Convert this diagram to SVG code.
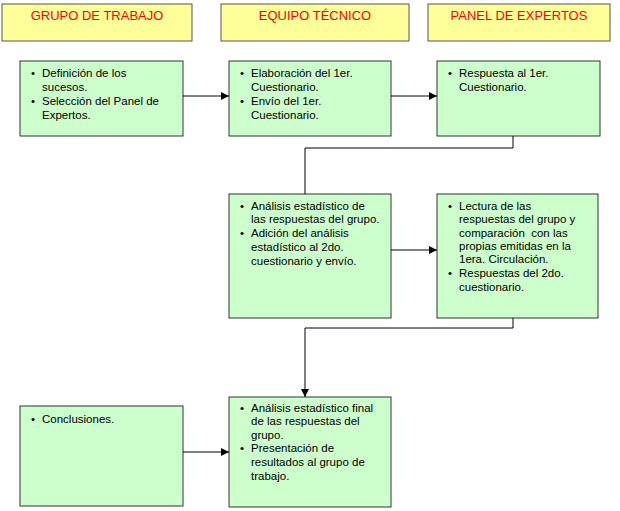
<svg xmlns="http://www.w3.org/2000/svg" width="620" height="511" viewBox="0 0 620 511">
<style>
.h{fill:#ffff99;stroke:#555;stroke-width:1}
.ht{font-family:"Liberation Sans",Arial,sans-serif;font-size:13px;fill:#ff0000;text-anchor:middle}
.b{fill:#ccffcc;stroke:#333;stroke-width:1}
.t{font-family:"Liberation Sans",Arial,sans-serif;font-size:11.5px;fill:#000}
.c{fill:none;stroke:#000;stroke-width:1}
</style>
<defs><marker id="a" markerWidth="8" markerHeight="8" refX="8" refY="4" orient="auto" markerUnits="userSpaceOnUse"><path d="M0,0 L8,4 L0,8 z" fill="#000"/></marker></defs>
<rect width="620" height="511" fill="#fff"/>
<g id="h1"><rect class="h" x="2" y="4" width="190" height="37"/><text class="ht" x="97" y="20">GRUPO DE TRABAJO</text></g>
<g id="h2"><rect class="h" x="221" y="4" width="188" height="37"/><text class="ht" x="315" y="20">EQUIPO TÉCNICO</text></g>
<g id="h3"><rect class="h" x="428" y="4" width="182" height="37"/><text class="ht" x="519" y="20">PANEL DE EXPERTOS</text></g>
<g id="n1"><rect class="b" x="20" y="61" width="163" height="75"/>
<text class="t" x="31" y="77">•</text><text class="t" x="42" y="77">Definición de los</text><text class="t" x="42" y="91">sucesos.</text>
<text class="t" x="31" y="105">•</text><text class="t" x="42" y="105">Selección del Panel de</text><text class="t" x="42" y="119">Expertos.</text></g>
<g id="n2"><rect class="b" x="229" y="61" width="162" height="75"/>
<text class="t" x="240" y="77">•</text><text class="t" x="251" y="77">Elaboración del 1er.</text><text class="t" x="251" y="91">Cuestionario.</text>
<text class="t" x="240" y="105">•</text><text class="t" x="251" y="105">Envío del 1er.</text><text class="t" x="251" y="119">Cuestionario.</text></g>
<g id="n3"><rect class="b" x="437" y="61" width="163" height="75"/>
<text class="t" x="448" y="77">•</text><text class="t" x="459" y="77">Respuesta al 1er.</text><text class="t" x="459" y="91">Cuestionario.</text></g>
<g id="n4"><rect class="b" x="229" y="194" width="162" height="124"/>
<text class="t" x="240" y="210">•</text><text class="t" x="251" y="210">Análisis estadístico de</text><text class="t" x="251" y="223">las respuestas del grupo.</text>
<text class="t" x="240" y="237">•</text><text class="t" x="251" y="237">Adición del análisis</text><text class="t" x="251" y="251">estadístico al 2do.</text><text class="t" x="251" y="265">cuestionario y envío.</text></g>
<g id="n5"><rect class="b" x="437" y="194" width="161" height="124"/>
<text class="t" x="448" y="210">•</text><text class="t" x="459" y="210">Lectura de las</text><text class="t" x="459" y="223">respuestas del grupo y</text><text class="t" x="459" y="237" xml:space="preserve">comparación  con las</text><text class="t" x="459" y="250">propias emitidas en la</text><text class="t" x="459" y="263">1era. Circulación.</text>
<text class="t" x="448" y="277">•</text><text class="t" x="459" y="277">Respuestas del 2do.</text><text class="t" x="459" y="291">cuestionario.</text></g>
<g id="n6"><rect class="b" x="20" y="406" width="163" height="100"/>
<text class="t" x="31" y="423">•</text><text class="t" x="42" y="423">Conclusiones.</text></g>
<g id="n7"><rect class="b" x="229" y="397" width="162" height="110"/>
<text class="t" x="240" y="412">•</text><text class="t" x="251" y="412">Análisis estadístico final</text><text class="t" x="251" y="425">de las respuestas del</text><text class="t" x="251" y="439">grupo.</text>
<text class="t" x="240" y="452">•</text><text class="t" x="251" y="452">Presentación de</text><text class="t" x="251" y="466">resultados al grupo de</text><text class="t" x="251" y="480">trabajo.</text></g>
<g id="connectors">
<path class="c" d="M183,96 H229" marker-end="url(#a)"/>
<path class="c" d="M391,96 H437" marker-end="url(#a)"/>
<path class="c" d="M513,136 V148 H305 V194"/>
<path class="c" d="M391,250 H437" marker-end="url(#a)"/>
<path class="c" d="M513,318 V328 H305 V397" marker-end="url(#a)"/>
<path class="c" d="M183,452 H229" marker-end="url(#a)"/>
</g>
</svg>
